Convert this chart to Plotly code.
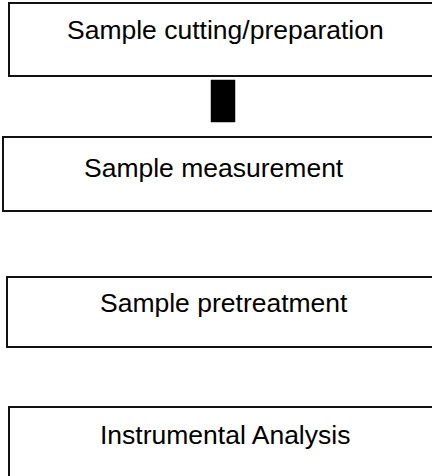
import plotly.graph_objects as go

# Flowchart steps
steps = ["Sample cutting/preparation", "Sample measurement", "Sample pretreatment", "Instrumental Analysis"]

# Layout (pixel coordinates of the page)
box_left = [9, 3, 7, 9]
box_top = [3, 137, 277, 407]
box_bottom = [76, 211, 347, 490]
text_x = [225.5, 214, 223.5, 225]
text_y = [29.5, 168, 303, 435]
connector = dict(x0=211, x1=235, y0=80, y1=122)

W, H = 432, 476
fig = go.Figure()
fig.add_trace(go.Scatter(x=[0, W], y=[0, H], mode="markers", marker=dict(opacity=0), hoverinfo="skip", showlegend=False))

shapes = []
for l, t, b in zip(box_left, box_top, box_bottom):
    shapes.append(dict(type="rect", xref="x", yref="y", x0=l, x1=W + 10, y0=t, y1=b,
                       line=dict(color="#111111", width=2), fillcolor="rgba(0,0,0,0)", layer="above"))
shapes.append(dict(type="rect", xref="x", yref="y", **connector,
                   line=dict(color="#000000", width=0.5), fillcolor="#000000"))

annotations = []
for s, x, y in zip(steps, text_x, text_y):
    annotations.append(dict(x=x, y=y, xref="x", yref="y", text=s, showarrow=False,
                            xanchor="center", yanchor="middle",
                            font=dict(family="Liberation Sans, Arial, sans-serif", size=26.5, color="#000000")))

fig.update_layout(
    width=W, height=H,
    margin=dict(l=0, r=0, t=0, b=0),
    paper_bgcolor="white", plot_bgcolor="white",
    xaxis=dict(range=[0, W], visible=False, fixedrange=True),
    yaxis=dict(range=[H, 0], visible=False, fixedrange=True),
    shapes=shapes, annotations=annotations,
    showlegend=False,
)
fig.write_html("out.html", config={"displayModeBar": False},
               post_script="document.body.style.margin='0';document.body.style.overflow='hidden';")
